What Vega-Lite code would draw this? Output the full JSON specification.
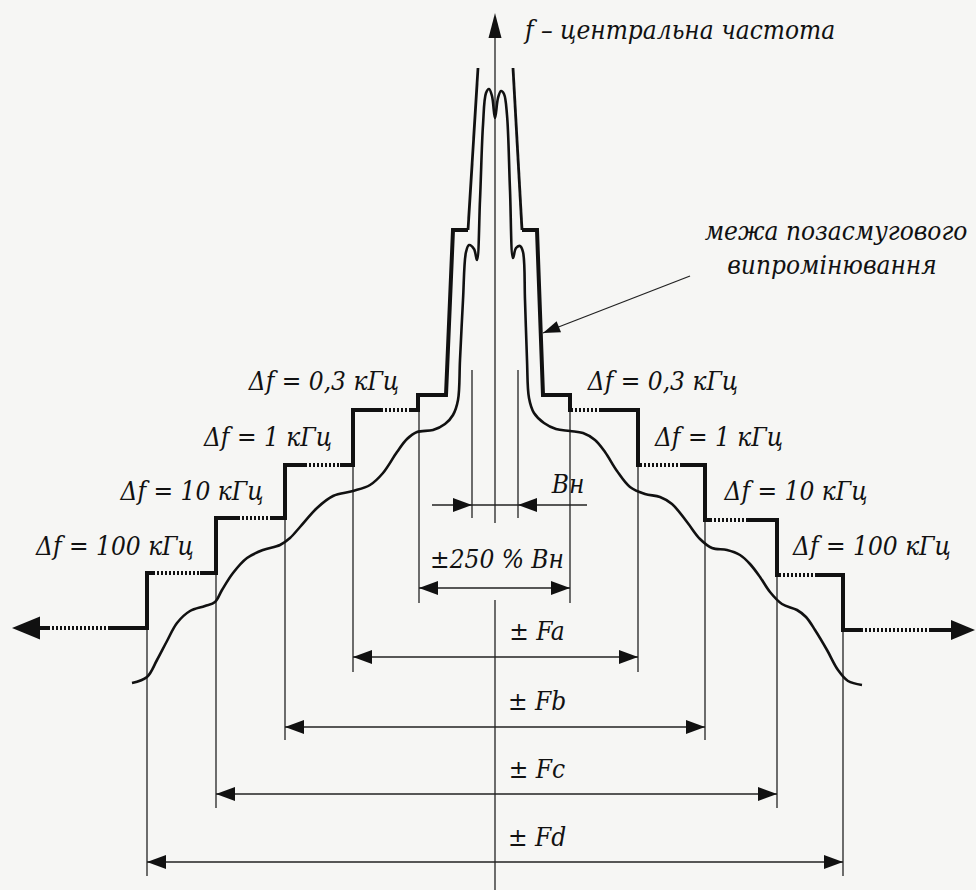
{
  "$schema": "https://vega.github.io/schema/vega-lite/v6.json",
  "width": 976,
  "height": 890,
  "autosize": {"type": "none"},
  "padding": 0,
  "background": "#f6f6f4",
  "config": {"view": {"stroke": null}},
  "datasets": {
    "rules": [
      {"x": 495, "y": 35, "x2": 495, "y2": 523},
      {"x": 495, "y": 600, "x2": 495, "y2": 890},
      {"x": 147, "y": 628, "x2": 147, "y2": 876},
      {"x": 843, "y": 630, "x2": 843, "y2": 876},
      {"x": 216, "y": 573, "x2": 216, "y2": 808},
      {"x": 777, "y": 575, "x2": 777, "y2": 808},
      {"x": 285, "y": 518, "x2": 285, "y2": 740},
      {"x": 705, "y": 520, "x2": 705, "y2": 740},
      {"x": 353, "y": 465, "x2": 353, "y2": 672},
      {"x": 638, "y": 465, "x2": 638, "y2": 672},
      {"x": 419, "y": 410, "x2": 419, "y2": 603},
      {"x": 570, "y": 410, "x2": 570, "y2": 603},
      {"x": 472, "y": 370, "x2": 472, "y2": 518},
      {"x": 518, "y": 370, "x2": 518, "y2": 518},
      {"x": 147, "y": 862, "x2": 843, "y2": 862},
      {"x": 216, "y": 794, "x2": 777, "y2": 794},
      {"x": 285, "y": 727, "x2": 705, "y2": 727},
      {"x": 353, "y": 657, "x2": 638, "y2": 657},
      {"x": 419, "y": 588, "x2": 570, "y2": 588},
      {"x": 432, "y": 505, "x2": 587, "y2": 505},
      {"x": 543, "y": 333, "x2": 690, "y2": 276}
    ],
    "mask": [
      {"seg": "L", "o": 1, "x": 30, "y": 628},
      {"seg": "L", "o": 2, "x": 147, "y": 628},
      {"seg": "L", "o": 3, "x": 147, "y": 573},
      {"seg": "L", "o": 4, "x": 216, "y": 573},
      {"seg": "L", "o": 5, "x": 216, "y": 518},
      {"seg": "L", "o": 6, "x": 285, "y": 518},
      {"seg": "L", "o": 7, "x": 285, "y": 465},
      {"seg": "L", "o": 8, "x": 353, "y": 465},
      {"seg": "L", "o": 9, "x": 353, "y": 410},
      {"seg": "L", "o": 10, "x": 418, "y": 410},
      {"seg": "L", "o": 11, "x": 418, "y": 395},
      {"seg": "L", "o": 12, "x": 446, "y": 395},
      {"seg": "L", "o": 13, "x": 453, "y": 230},
      {"seg": "L", "o": 14, "x": 468, "y": 230},
      {"seg": "R", "o": 1, "x": 522, "y": 230},
      {"seg": "R", "o": 2, "x": 537, "y": 230},
      {"seg": "R", "o": 3, "x": 543, "y": 395},
      {"seg": "R", "o": 4, "x": 570, "y": 395},
      {"seg": "R", "o": 5, "x": 570, "y": 410},
      {"seg": "R", "o": 6, "x": 638, "y": 410},
      {"seg": "R", "o": 7, "x": 638, "y": 465},
      {"seg": "R", "o": 8, "x": 705, "y": 465},
      {"seg": "R", "o": 9, "x": 705, "y": 520},
      {"seg": "R", "o": 10, "x": 777, "y": 520},
      {"seg": "R", "o": 11, "x": 777, "y": 575},
      {"seg": "R", "o": 12, "x": 843, "y": 575},
      {"seg": "R", "o": 13, "x": 843, "y": 630},
      {"seg": "R", "o": 14, "x": 960, "y": 630}
    ],
    "maskTop": [
      {"seg": "L", "o": 1, "x": 468, "y": 230},
      {"seg": "L", "o": 2, "x": 478, "y": 68},
      {"seg": "R", "o": 1, "x": 513, "y": 68},
      {"seg": "R", "o": 2, "x": 522, "y": 230}
    ],
    "dots": [
      {"x": 50, "y": 628, "x2": 110, "y2": 628},
      {"x": 155, "y": 573, "x2": 200, "y2": 573},
      {"x": 240, "y": 518, "x2": 270, "y2": 518},
      {"x": 307, "y": 465, "x2": 340, "y2": 465},
      {"x": 383, "y": 410, "x2": 410, "y2": 410},
      {"x": 573, "y": 410, "x2": 600, "y2": 410},
      {"x": 642, "y": 465, "x2": 680, "y2": 465},
      {"x": 712, "y": 520, "x2": 748, "y2": 520},
      {"x": 781, "y": 575, "x2": 815, "y2": 575},
      {"x": 863, "y": 630, "x2": 930, "y2": 630}
    ],
    "curve": [
      {"o": 1, "x": 132, "y": 683},
      {"o": 2, "x": 147, "y": 677},
      {"o": 3, "x": 157, "y": 660},
      {"o": 4, "x": 167, "y": 641},
      {"o": 5, "x": 177, "y": 623},
      {"o": 6, "x": 190, "y": 611},
      {"o": 7, "x": 205, "y": 606},
      {"o": 8, "x": 215, "y": 602},
      {"o": 9, "x": 222, "y": 590},
      {"o": 10, "x": 233, "y": 573},
      {"o": 11, "x": 247, "y": 558},
      {"o": 12, "x": 263, "y": 550},
      {"o": 13, "x": 280, "y": 545},
      {"o": 14, "x": 290, "y": 538},
      {"o": 15, "x": 300, "y": 527},
      {"o": 16, "x": 317, "y": 508},
      {"o": 17, "x": 333, "y": 496},
      {"o": 18, "x": 353, "y": 491},
      {"o": 19, "x": 370, "y": 485},
      {"o": 20, "x": 383, "y": 473},
      {"o": 21, "x": 397, "y": 452},
      {"o": 22, "x": 407, "y": 439},
      {"o": 23, "x": 417, "y": 432},
      {"o": 24, "x": 433, "y": 430},
      {"o": 25, "x": 445, "y": 424},
      {"o": 26, "x": 453, "y": 415},
      {"o": 27, "x": 458, "y": 400},
      {"o": 28, "x": 460, "y": 360},
      {"o": 29, "x": 463, "y": 300},
      {"o": 30, "x": 466, "y": 252},
      {"o": 31, "x": 469, "y": 245},
      {"o": 32, "x": 474, "y": 249},
      {"o": 33, "x": 477, "y": 260},
      {"o": 34, "x": 480, "y": 200},
      {"o": 35, "x": 483, "y": 125},
      {"o": 36, "x": 486, "y": 93},
      {"o": 37, "x": 489, "y": 89},
      {"o": 38, "x": 492, "y": 96},
      {"o": 39, "x": 495, "y": 118},
      {"o": 40, "x": 498, "y": 98},
      {"o": 41, "x": 501, "y": 91},
      {"o": 42, "x": 504, "y": 94},
      {"o": 43, "x": 507, "y": 115},
      {"o": 44, "x": 510, "y": 190},
      {"o": 45, "x": 513, "y": 258},
      {"o": 46, "x": 516, "y": 248},
      {"o": 47, "x": 520, "y": 246},
      {"o": 48, "x": 523, "y": 252},
      {"o": 49, "x": 525, "y": 300},
      {"o": 50, "x": 527, "y": 360},
      {"o": 51, "x": 529, "y": 398},
      {"o": 52, "x": 534, "y": 413},
      {"o": 53, "x": 544, "y": 423},
      {"o": 54, "x": 556, "y": 429},
      {"o": 55, "x": 570, "y": 431},
      {"o": 56, "x": 583, "y": 433},
      {"o": 57, "x": 595, "y": 440},
      {"o": 58, "x": 605, "y": 452},
      {"o": 59, "x": 617, "y": 471},
      {"o": 60, "x": 630, "y": 487},
      {"o": 61, "x": 645, "y": 494},
      {"o": 62, "x": 660, "y": 497},
      {"o": 63, "x": 672, "y": 504},
      {"o": 64, "x": 687, "y": 522},
      {"o": 65, "x": 700, "y": 539},
      {"o": 66, "x": 712, "y": 548},
      {"o": 67, "x": 727, "y": 550},
      {"o": 68, "x": 740, "y": 555},
      {"o": 69, "x": 750, "y": 564},
      {"o": 70, "x": 760, "y": 577},
      {"o": 71, "x": 770, "y": 592},
      {"o": 72, "x": 782, "y": 604},
      {"o": 73, "x": 797, "y": 610},
      {"o": 74, "x": 806, "y": 617},
      {"o": 75, "x": 815, "y": 630},
      {"o": 76, "x": 827, "y": 650},
      {"o": 77, "x": 838, "y": 670},
      {"o": 78, "x": 848, "y": 681},
      {"o": 79, "x": 862, "y": 685}
    ],
    "heads": [
      {"dir": "u", "x": 495, "y": 13},
      {"dir": "bl", "x": 12, "y": 628},
      {"dir": "br", "x": 975, "y": 630},
      {"dir": "l", "x": 147, "y": 862},
      {"dir": "r", "x": 843, "y": 862},
      {"dir": "l", "x": 216, "y": 794},
      {"dir": "r", "x": 777, "y": 794},
      {"dir": "l", "x": 285, "y": 727},
      {"dir": "r", "x": 705, "y": 727},
      {"dir": "l", "x": 353, "y": 657},
      {"dir": "r", "x": 638, "y": 657},
      {"dir": "l", "x": 419, "y": 588},
      {"dir": "r", "x": 570, "y": 588},
      {"dir": "r", "x": 472, "y": 505},
      {"dir": "l", "x": 518, "y": 505}
    ],
    "pointer": [
      {"x": 543, "y": 333}
    ],
    "labels": [
      {"t": "f – центральна частота", "x": 680, "y": 31},
      {"t": "межа позасмугового", "x": 836, "y": 232},
      {"t": "випромінювання", "x": 832, "y": 266},
      {"t": "Δf = 0,3 кГц", "x": 324, "y": 382},
      {"t": "Δf = 0,3 кГц", "x": 663, "y": 382},
      {"t": "Δf = 1 кГц", "x": 268, "y": 438},
      {"t": "Δf = 1 кГц", "x": 719, "y": 438},
      {"t": "Δf = 10 кГц", "x": 192, "y": 492},
      {"t": "Δf = 10 кГц", "x": 796, "y": 492},
      {"t": "Δf = 100 кГц", "x": 115, "y": 547},
      {"t": "Δf = 100 кГц", "x": 872, "y": 547},
      {"t": "Bн", "x": 568, "y": 485},
      {"t": "±250 % Bн", "x": 497, "y": 560},
      {"t": "± Fa", "x": 537, "y": 632},
      {"t": "± Fb", "x": 537, "y": 702},
      {"t": "± Fc", "x": 537, "y": 770},
      {"t": "± Fd", "x": 537, "y": 838}
    ]
  },
  "layer": [
    {
      "data": {"name": "rules"},
      "mark": {"type": "rule", "color": "#222", "strokeWidth": 1.3},
      "encoding": {
        "x": {"field": "x", "type": "quantitative", "scale": {"domain": [0, 976], "nice": false, "zero": false}, "axis": null},
        "y": {"field": "y", "type": "quantitative", "scale": {"domain": [0, 890], "nice": false, "zero": false, "reverse": true}, "axis": null},
        "x2": {"field": "x2"},
        "y2": {"field": "y2"}
      }
    },
    {
      "data": {"name": "mask"},
      "mark": {"type": "line", "color": "#111", "strokeWidth": 4, "strokeJoin": "miter", "strokeCap": "butt"},
      "encoding": {
        "x": {"field": "x", "type": "quantitative", "scale": {"domain": [0, 976], "nice": false, "zero": false}, "axis": null},
        "y": {"field": "y", "type": "quantitative", "scale": {"domain": [0, 890], "nice": false, "zero": false, "reverse": true}, "axis": null},
        "detail": {"field": "seg"},
        "order": {"field": "o", "type": "quantitative"}
      }
    },
    {
      "data": {"name": "maskTop"},
      "mark": {"type": "line", "color": "#111", "strokeWidth": 2.8, "strokeJoin": "miter", "strokeCap": "butt"},
      "encoding": {
        "x": {"field": "x", "type": "quantitative", "scale": {"domain": [0, 976], "nice": false, "zero": false}, "axis": null},
        "y": {"field": "y", "type": "quantitative", "scale": {"domain": [0, 890], "nice": false, "zero": false, "reverse": true}, "axis": null},
        "detail": {"field": "seg"},
        "order": {"field": "o", "type": "quantitative"}
      }
    },
    {
      "data": {"name": "dots"},
      "mark": {"type": "rule", "color": "#f6f6f4", "strokeWidth": 4.6, "strokeDash": [2, 2]},
      "encoding": {
        "x": {"field": "x", "type": "quantitative", "scale": {"domain": [0, 976], "nice": false, "zero": false}, "axis": null},
        "y": {"field": "y", "type": "quantitative", "scale": {"domain": [0, 890], "nice": false, "zero": false, "reverse": true}, "axis": null},
        "x2": {"field": "x2"},
        "y2": {"field": "y2"}
      }
    },
    {
      "data": {"name": "curve"},
      "mark": {"type": "line", "color": "#111", "strokeWidth": 2.6, "interpolate": "catmull-rom"},
      "encoding": {
        "x": {"field": "x", "type": "quantitative", "scale": {"domain": [0, 976], "nice": false, "zero": false}, "axis": null},
        "y": {"field": "y", "type": "quantitative", "scale": {"domain": [0, 890], "nice": false, "zero": false, "reverse": true}, "axis": null},
        "order": {"field": "o", "type": "quantitative"}
      }
    },
    {
      "data": {"name": "heads"},
      "mark": {"type": "point", "filled": true, "size": 100, "color": "#111", "opacity": 1, "strokeWidth": 0},
      "encoding": {
        "x": {"field": "x", "type": "quantitative", "scale": {"domain": [0, 976], "nice": false, "zero": false}, "axis": null},
        "y": {"field": "y", "type": "quantitative", "scale": {"domain": [0, 890], "nice": false, "zero": false, "reverse": true}, "axis": null},
        "shape": {
          "field": "dir", "type": "nominal", "legend": null,
          "scale": {
            "domain": ["u", "bl", "br", "l", "r"],
            "range": ["M0,0L-1.3,5L1.3,5Z", "M0,0L5.6,-2.3L5.6,2.3Z", "M0,0L-4.8,-2L-4.8,2Z", "M0,0L3.8,-1.4L3.8,1.4Z", "M0,0L-3.8,-1.4L-3.8,1.4Z"]
          }
        }
      }
    },
    {
      "data": {"name": "pointer"},
      "mark": {"type": "point", "filled": true, "size": 100, "color": "#111", "opacity": 1, "strokeWidth": 0, "shape": "M0,0L3.4,-1.2L3.4,1.2Z", "angle": 338.5},
      "encoding": {
        "x": {"field": "x", "type": "quantitative", "scale": {"domain": [0, 976], "nice": false, "zero": false}, "axis": null},
        "y": {"field": "y", "type": "quantitative", "scale": {"domain": [0, 890], "nice": false, "zero": false, "reverse": true}, "axis": null}
      }
    },
    {
      "data": {"name": "labels"},
      "mark": {"type": "text", "font": "DejaVu Serif Condensed, DejaVu Serif", "fontStyle": "italic", "fontSize": 26, "color": "#111", "align": "center", "baseline": "middle"},
      "encoding": {
        "x": {"field": "x", "type": "quantitative", "scale": {"domain": [0, 976], "nice": false, "zero": false}, "axis": null},
        "y": {"field": "y", "type": "quantitative", "scale": {"domain": [0, 890], "nice": false, "zero": false, "reverse": true}, "axis": null},
        "text": {"field": "t"}
      }
    }
  ]
}
